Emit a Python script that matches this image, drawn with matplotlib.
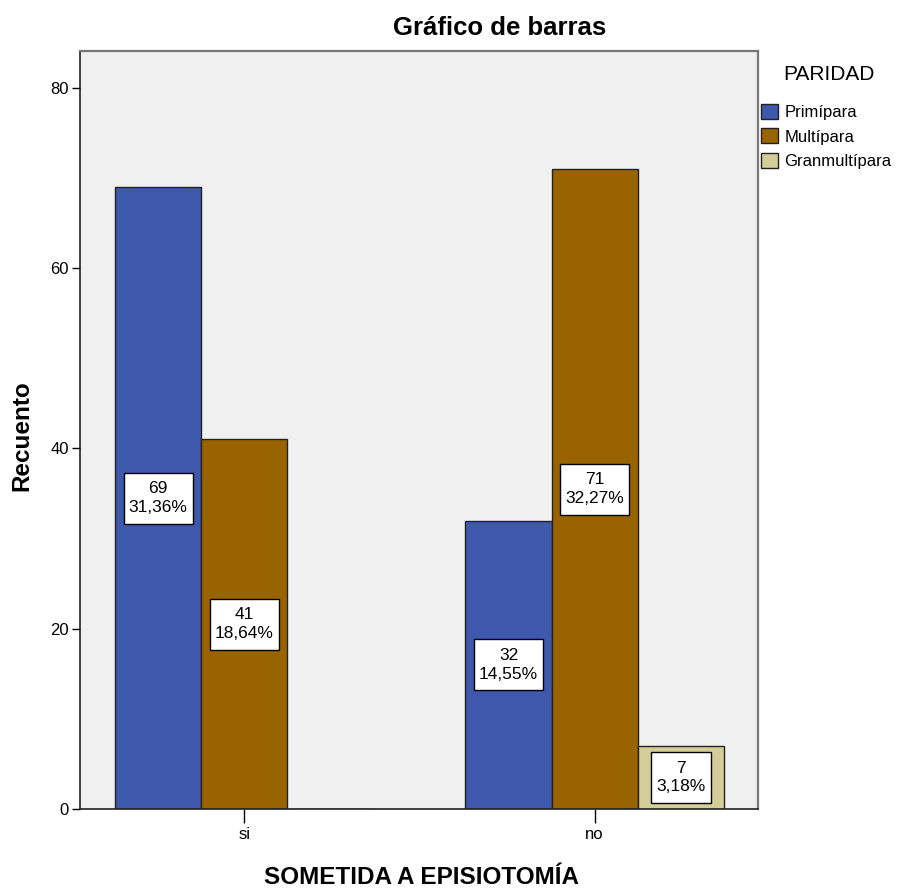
import matplotlib
matplotlib.use("Agg")
import matplotlib.pyplot as plt
from matplotlib.path import Path
import numpy as np

plt.rcParams['font.family'] = ['Liberation Sans', 'DejaVu Sans']

# Data
categories = ["si", "no"]
series_names = ["Primípara", "Multípara", "Granmultípara"]
counts = {
    "Primípara": [69, 32],
    "Multípara": [41, 71],
    "Granmultípara": [0, 7],
}
colors = {
    "Primípara": "#3E58AC",
    "Multípara": "#996300",
    "Granmultípara": "#D3CE97",
}
y_ticks = [0, 20, 40, 60, 80]

total = sum(sum(v) for v in counts.values())


def label_box(x0, y0, width, height, mutation_size):
    """Rectangle with a little more padding above and below than at the sides."""
    px, py = 0.3 * mutation_size, 0.5 * mutation_size
    x0, y0 = x0 - px, y0 - py
    x1, y1 = x0 + width + 2 * px, y0 + height + 2 * py
    return Path([(x0, y0), (x1, y0), (x1, y1), (x0, y1), (x0, y0)],
                closed=True)


fig = plt.figure(figsize=(8.97, 8.90), dpi=100)
ax = fig.add_axes([80 / 897, 81 / 890, 678 / 897, 758 / 890])
ax.set_facecolor("#F0F0F0")

x = np.arange(len(categories))
width = 0.2459
offsets = [-width, 0, width]

handles = []
for name, off in zip(series_names, offsets):
    vals = counts[name]
    bars = ax.bar(x + off, vals, width, color=colors[name],
                  edgecolor="#222222", linewidth=1.0, zorder=2)
    handles.append(bars)
    for xi, v in zip(x + off, vals):
        if v <= 0:
            continue
        pct = f"{100 * v / total:.2f}".replace(".", ",")
        ax.text(xi, v / 2, f"{v}\n{pct}%", ha="center", va="center",
                fontsize=12.5, linespacing=1.3, zorder=4,
                bbox=dict(boxstyle=label_box, fc="white",
                          ec="black", lw=1.0))

ax.set_xlim(-0.469, 1.466)
ax.set_ylim(0, 84.1)
ax.set_xticks(x)
ax.set_xticklabels(categories, fontsize=12)
ax.set_yticks(y_ticks)
ax.set_yticklabels([str(t) for t in y_ticks], fontsize=12)
ax.tick_params(axis="y", length=6, width=1, pad=2)
ax.tick_params(axis="x", length=10, width=1, pad=3)

for side in ("left", "bottom"):
    ax.spines[side].set_color("#222222")
    ax.spines[side].set_linewidth(1.2)
for side in ("top", "right"):
    ax.spines[side].set_color("#777777")
    ax.spines[side].set_linewidth(1.6)

fig.text(500 / 897, 1 - 28 / 890, "Gráfico de barras", ha="center",
         va="center", fontsize=18.5, fontweight="bold")
fig.text(22 / 897, 1 - 436 / 890, "Recuento", ha="center", va="center",
         rotation=90, fontsize=17.5, fontweight="bold")
fig.text(421 / 897, 1 - 878 / 890, "SOMETIDA A EPISIOTOMÍA", ha="center",
         va="center", fontsize=17.5, fontweight="bold")

# Legend: title placed on its own, entries below it
fig.text(829 / 897, 1 - 75 / 890, "PARIDAD", ha="center", va="center",
         fontsize=15)
leg = fig.legend(handles, series_names,
                 loc="upper left", bbox_to_anchor=(761 / 897, 1 - 104 / 890),
                 frameon=False, fontsize=12,
                 handlelength=1.0, handleheight=1.0, handletextpad=0.4,
                 labelspacing=0.5, borderpad=0, borderaxespad=0)

fig.savefig("out.png", dpi=100)
